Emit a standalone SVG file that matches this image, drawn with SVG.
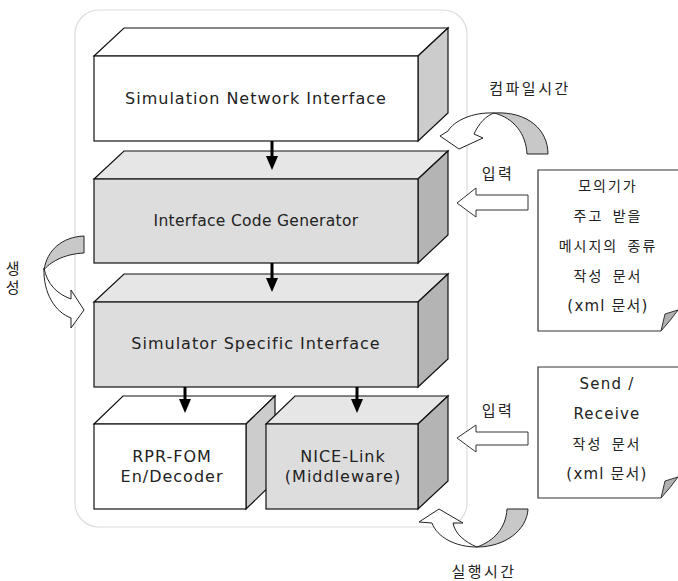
<svg xmlns="http://www.w3.org/2000/svg" width="678" height="581" viewBox="0 0 678 581">
  <style>
    .frame { fill: none; stroke: #dcdcdc; stroke-width: 1.2; }
    .edge { stroke: #111; stroke-width: 1.2; stroke-linejoin: miter; }
    .w-front { fill: #ffffff; }
    .w-top { fill: #ffffff; }
    .w-side { fill: #cccccc; }
    .g-front { fill: #dddddd; }
    .g-top { fill: #e6e6e6; }
    .g-side { fill: #b4b4b4; }
    .lbl { font-family: "DejaVu Sans", "Noto Sans CJK KR", sans-serif; font-size: 16px; letter-spacing: 1px; fill: #222; text-anchor: middle; }
    .ko { font-family: "Noto Sans CJK KR", sans-serif; font-size: 15px; letter-spacing: 2.5px; fill: #222; text-anchor: middle; }
    .doc-ko { font-family: "DejaVu Sans", "Noto Sans CJK KR", sans-serif; font-size: 14px; letter-spacing: 2px; word-spacing: 3px; fill: #222; text-anchor: middle; }
    .doc-en { font-family: "DejaVu Sans", "Noto Sans CJK KR", sans-serif; font-size: 15px; letter-spacing: 1.2px; fill: #222; text-anchor: middle; }
    .doc { fill: #ffffff; }
    .doc-line { fill: none; stroke: #333; stroke-width: 1.2; }
    .fold { fill: #b0b0b0; stroke: #333; stroke-width: 1; stroke-linejoin: round; }
    .hollow { fill: #ffffff; stroke: #333; stroke-width: 1; }
    .bend-w { fill: #ffffff; stroke: #222; stroke-width: 1; stroke-linejoin: round; }
    .bend-g { fill: #c8c8c8; stroke: #222; stroke-width: 1; stroke-linejoin: round; }
    .flow { stroke: #000; stroke-width: 3; fill: none; marker-end: url(#head); }
  </style>
  <defs>
    <marker id="head" viewBox="0 0 14 12" refX="0" refY="6" markerWidth="14" markerHeight="12" markerUnits="userSpaceOnUse" orient="auto">
      <path d="M0,0 L14,6 L0,12 Z" fill="#000"/>
    </marker>
  </defs>

  <rect x="0" y="0" width="678" height="581" fill="#ffffff"/>

  <!-- outer frame around the stack -->
  <rect class="frame" x="75" y="10" width="392" height="517" rx="24" ry="24"/>

  <!-- Simulation Network Interface -->
  <g id="sim-network-interface">
    <polygon class="edge w-top" points="94,56 124,28 448,28 418,56"/>
    <polygon class="edge w-side" points="418,56 448,28 448,113 418,141"/>
    <rect class="edge w-front" x="94" y="56" width="324" height="85"/>
    <text class="lbl" x="256" y="104">Simulation Network Interface</text>
  </g>

  <!-- Interface Code Generator -->
  <g id="interface-code-generator">
    <polygon class="edge g-top" points="94,179 124,151 448,151 418,179"/>
    <polygon class="edge g-side" points="418,179 448,151 448,235 418,263"/>
    <rect class="edge g-front" x="94" y="179" width="324" height="84"/>
    <text class="lbl" x="256" y="226" style="font-size:15.5px;letter-spacing:0.3px">Interface Code Generator</text>
  </g>

  <!-- Simulator Specific Interface -->
  <g id="simulator-specific-interface">
    <polygon class="edge g-top" points="94,302 124,274 448,274 418,302"/>
    <polygon class="edge g-side" points="418,302 448,274 448,359 418,387"/>
    <rect class="edge g-front" x="94" y="302" width="324" height="85"/>
    <text class="lbl" x="256" y="349">Simulator Specific Interface</text>
  </g>

  <!-- RPR-FOM En/Decoder -->
  <g id="rpr-fom-codec">
    <polygon class="edge w-top" points="94,424 123,396 275,396 246,424"/>
    <polygon class="edge w-side" points="246,424 275,396 275,481 246,509"/>
    <rect class="edge w-front" x="94" y="424" width="152" height="85"/>
    <text class="lbl" x="172" y="462">RPR-FOM</text>
    <text class="lbl" x="172" y="482">En/Decoder</text>
  </g>

  <!-- NICE-Link (Middleware) -->
  <g id="nice-link">
    <polygon class="edge g-top" points="266,424 295,396 448,396 418,424"/>
    <polygon class="edge g-side" points="418,424 448,396 448,481 418,509"/>
    <rect class="edge g-front" x="266" y="424" width="152" height="85"/>
    <text class="lbl" x="343" y="462">NICE-Link</text>
    <text class="lbl" x="343" y="482">(Middleware)</text>
  </g>

  <!-- message-type description document -->
  <g id="message-doc">
    <path class="doc" d="M680,170 H538 V331 H661 L680,308 V170 Z"/>
    <path class="doc-line" d="M680,170 H538 V331 H661"/>
    <path class="fold" d="M661,331 L665,314 L678,310 Q671,320 661,331 Z"/>
    <text class="doc-ko" x="608" y="191">모의기가</text>
    <text class="doc-ko" x="608" y="221">주고 받을</text>
    <text class="doc-ko" x="608" y="251">메시지의 종류</text>
    <text class="doc-ko" x="608" y="281">작성 문서</text>
    <text class="doc-en" x="608" y="311">(xml 문서)</text>
  </g>

  <!-- send/receive description document -->
  <g id="send-receive-doc">
    <path class="doc" d="M680,367 H538 V498 H661 L680,475 V367 Z"/>
    <path class="doc-line" d="M680,367 H538 V498 H661"/>
    <path class="fold" d="M661,498 L665,481 L678,477 Q671,487 661,498 Z"/>
    <text class="doc-en" x="607" y="389">Send /</text>
    <text class="doc-en" x="607" y="419">Receive</text>
    <text class="doc-ko" x="607" y="449">작성 문서</text>
    <text class="doc-en" x="607" y="479">(xml 문서)</text>
  </g>

  <!-- input arrows from the documents -->
  <g id="input-upper">
    <polygon class="hollow" points="457,203 476,188 476,195 528,195 528,210 476,210 476,217"/>
    <text class="ko" x="498" y="179">입력</text>
  </g>
  <g id="input-lower">
    <polygon class="hollow" points="457,438 476,425 476,432 528,432 528,445 476,445 476,452"/>
    <text class="ko" x="498" y="416">입력</text>
  </g>

  <!-- compile-time bent arrow -->
  <g id="compile-time">
    <path class="bend-g" d="M494,113 C528,111 548,130 548,154 L527,154 C526,134 514,118 494,113 Z"/>
    <path class="bend-w" d="M494,113 C472,112 454,121 448,131 L440,136 L459,149 L483,138 L474,134 C479,123 486,116 494,113 Z"/>
    <text class="ko" x="530" y="94">컴파일시간</text>
  </g>

  <!-- generation bent arrow -->
  <g id="generation">
    <path class="bend-g" d="M84,236 C62,237 47,250 44,270 C49,263 63,254 84,253 Z"/>
    <path class="bend-w" d="M44,268 C43,293 55,312 71,318 L71,328 L84,310 L71,290 L71,299 C57,294 47,284 44,268 Z"/>
    <text class="ko" x="14" y="274">생</text>
    <text class="ko" x="14" y="293">성</text>
  </g>

  <!-- run-time bent arrow -->
  <g id="run-time">
    <path class="bend-g" d="M477,547 C505,547 527,530 528,509 L507,509 C506,528 494,541 477,547 Z"/>
    <path class="bend-w" d="M432,523 C437,537 455,547 477,547 C465,542 455,534 453,523 L463,523 L439,509 L419,522 Z"/>
    <text class="ko" x="484" y="577">실행시간</text>
  </g>

  <!-- data flow between layers -->
  <g id="connectors">
    <line class="flow" x1="272" y1="141" x2="272" y2="156"/>
    <line class="flow" x1="272" y1="263" x2="272" y2="278"/>
    <line class="flow" x1="185" y1="387" x2="185" y2="399"/>
    <line class="flow" x1="357" y1="387" x2="357" y2="399"/>
  </g>
</svg>
